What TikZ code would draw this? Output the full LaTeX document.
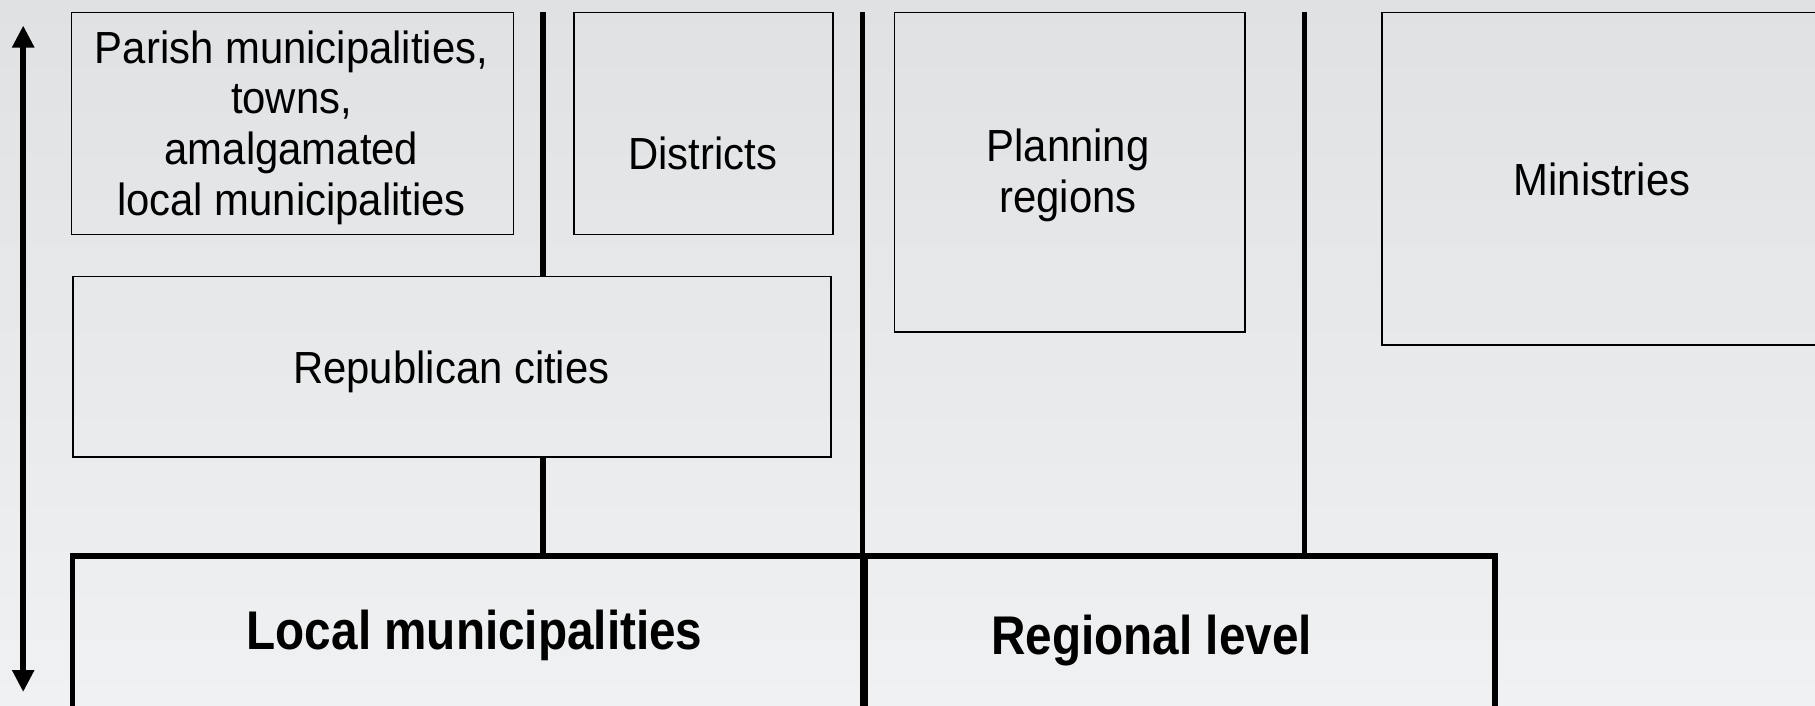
\documentclass[tikz,border=0pt]{standalone}
\usepackage{fontspec}
\setmainfont{Liberation Sans}[FakeStretch=0.93]
\newfontfamily\condbold{Liberation Sans Bold}[FakeStretch=0.875]
\usetikzlibrary{arrows.meta}
\definecolor{bgtop}{HTML}{DFE1E3}
\definecolor{bgbot}{HTML}{F0F1F2}
\tikzset{
  thinbox/.style={draw=black, line width=1.7pt, inner sep=0pt, anchor=north west},
  thickbox/.style={draw=black, line width=5.5pt, inner sep=0pt, anchor=north west},
  vline/.style={draw=black, line width=5.5pt},
  boxtext/.style={font=\fontsize{45}{50.6}\selectfont, align=center, inner sep=0pt},
  boldtext/.style={font=\condbold\fontsize{54.5}{60}\selectfont, inner sep=0pt},
  tips/.style={{Triangle[length=22pt,width=21pt]}-{Triangle[length=22pt,width=21pt]}}
}
\begin{document}
\begin{tikzpicture}[x=1pt,y=-1pt]
\useasboundingbox (0,0) rectangle (1815,705);
\clip (0,0) rectangle (1815,705);
\shade[top color=bgtop, bottom color=bgbot] (0,0) rectangle (1815,705);

% upper boxes
\node[thinbox, minimum width=442pt, minimum height=222pt] (parish) at (70.6,11.6) {};
\node[boxtext] (parishtext) at (291.5,127.5) {Parish municipalities,\\towns,\\amalgamated\\local municipalities};
\node[thinbox, minimum width=259pt, minimum height=222pt] (districts) at (573,11.6) {};
\node[boxtext] (districtstext) at (702.6,153) {Districts};
\node[thinbox, minimum width=758pt, minimum height=180.5pt] (republican) at (71.8,275.5) {};
\node[boxtext] (republicantext) at (451.4,371.5) {Republican cities};
\node[thinbox, minimum width=350.7pt, minimum height=319.4pt] (planning) at (893.6,11.6) {};
\node[boxtext] (planningtext) at (1068,175.5) {Planning\\regions};
\node[thinbox, minimum width=460pt, minimum height=332.2pt] (ministries) at (1381,11.6) {};
\node[boxtext] (ministriestext) at (1602,179.4) {Ministries};

% bottom boxes
\node[thickbox, minimum width=792.8pt, minimum height=170pt] (local) at (69.5,553.3) {};
\node[thickbox, minimum width=629.7pt, minimum height=170pt] (regional) at (862.3,553.3) {};
\node[boldtext] (localtext) at (474.6,635.5) {Local municipalities};
\node[boldtext] (regionaltext) at (1151.7,640.5) {Regional level};

% vertical connectors
\coordinate (l1top) at (542.9,11.6);
\coordinate (l2top) at (862.3,11.6);
\coordinate (l3top) at (1304.5,11.6);
\draw[vline] (l1top) -- (l1top |- republican.north);
\draw[vline] (l1top |- republican.south) -- (l1top |- local.north);
\draw[vline] (l2top) -- (l2top |- local.south);
\draw[vline] (l3top) -- (l3top |- regional.north);

% double arrow
\coordinate (atop) at (23.2,25.5);
\coordinate (abot) at (23.2,692);
\draw[vline, tips] (atop) -- (abot);
\end{tikzpicture}
\end{document}
